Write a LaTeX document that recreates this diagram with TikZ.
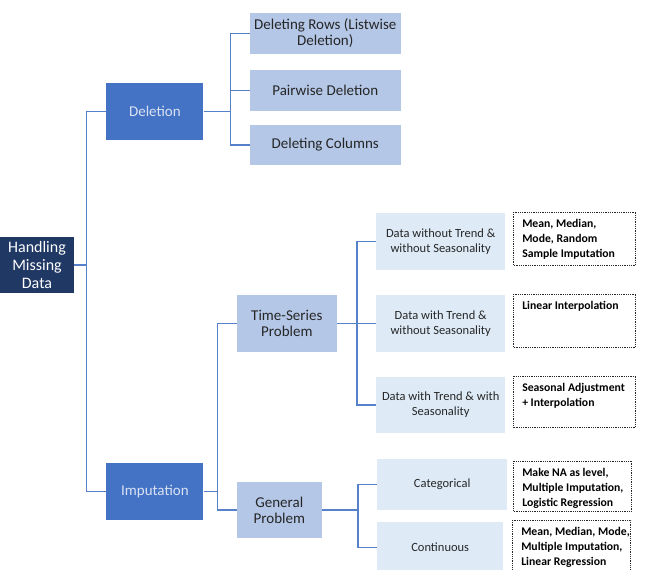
\documentclass[tikz,border=0pt]{standalone}
\usepackage{fontspec}
\setmainfont{Carlito}
\usetikzlibrary{positioning}

\definecolor{navy}{HTML}{203864}
\definecolor{midblue}{HTML}{4472C4}
\definecolor{paleblue}{HTML}{B4C7E7}
\definecolor{iceblue}{HTML}{DEEBF7}
\definecolor{inkgray}{HTML}{262626}
\definecolor{lavtext}{HTML}{DAE3F3}

% text of the dotted answer boxes, kept at the top
\newcommand{\restext}[3]{\parbox[c][#1][t]{#2}{\begin{tabular}[t]{@{}l@{}}#3\end{tabular}}}

\begin{document}
\begin{tikzpicture}[
    every node/.style={inner sep=2pt},
    rootbox/.style={rectangle, fill=navy, text=white, minimum width=74pt, minimum height=56pt, align=center, font=\fontsize{16}{18}\selectfont},
    branch/.style={rectangle, fill=midblue, text=lavtext, minimum width=97pt, minimum height=57pt, align=center, font=\fontsize{15}{17}\selectfont},
    method/.style={rectangle, fill=paleblue, text=inkgray, minimum height=57pt, align=center, font=\fontsize{15}{16}\selectfont},
    case/.style={rectangle, fill=iceblue, text=inkgray, minimum width=129pt, minimum height=57pt, align=center, font=\fontsize{12.5}{15}\selectfont},
    answer/.style={rectangle, draw=inkgray, line width=0.7pt, dash pattern=on 0.9pt off 0.9pt, inner xsep=8.5pt, inner ysep=5pt, font=\bfseries\fontsize{11.7}{15}\selectfont},
    link/.style={draw=midblue!90, line width=1.3pt}]

  \useasboundingbox (0,0) rectangle (645pt,-570pt);

  \node[rootbox] (hmd) at (37pt,-265pt) {Handling\\Missing\\Data};

  \node[branch, right=32pt of hmd, yshift=153.5pt] (deletion) {Deletion};
  \node[branch, right=32pt of hmd, yshift=-226.5pt] (imputation) {Imputation};

  \node[method, minimum width=151pt, minimum height=41pt, right=46pt of deletion, yshift=78pt] (rows) {Deleting Rows (Listwise\\Deletion)};
  \node[method, minimum width=151pt, minimum height=41pt, right=46pt of deletion, yshift=21pt] (pairwise) {Pairwise Deletion};
  \node[method, minimum width=151pt, minimum height=40pt, right=46pt of deletion, yshift=-33.5pt] (columns) {Deleting Columns};

  \node[method, minimum width=100pt, right=33pt of imputation, yshift=168pt] (timeseries) {Time-Series\\Problem};
  \node[method, minimum width=85pt, minimum height=56pt, right=33pt of imputation, yshift=-18.5pt] (general) {General\\Problem};

  \node[case, right=39pt of timeseries, yshift=82pt] (notrend) {Data without Trend \&\\without Seasonality};
  \node[case, right=39pt of timeseries] (trend) {Data with Trend \&\\without Seasonality};
  \node[case, minimum height=56pt, right=39pt of timeseries, yshift=-81.5pt] (seasonal) {Data with Trend \& with\\Seasonality};

  \node[case, minimum width=130pt, minimum height=51pt, right=55pt of general, yshift=25.5pt] (categorical) {Categorical};
  \node[case, minimum width=126pt, minimum height=51pt, right=55pt of general, yshift=-37.5pt] (continuous) {Continuous};

  \node[answer, right=8pt of notrend, yshift=3pt] (ansnotrend) {\restext{43pt}{105pt}{Mean, Median,\\Mode, Random\\Sample Imputation}};
  \node[answer, right=8pt of trend, yshift=3pt] (anstrend) {\restext{43pt}{105pt}{Linear Interpolation}};
  \node[answer, right=8pt of seasonal, yshift=3.5pt] (ansseasonal) {\restext{41pt}{105pt}{Seasonal Adjustment\\+ Interpolation}};
  \node[answer, right=6pt of categorical, yshift=-1.5pt] (anscategorical) {\restext{40pt}{101pt}{Make NA as level,\\Multiple Imputation,\\Logistic Regression}};
  \node[answer, right=9pt of continuous, yshift=1.5pt] (anscontinuous) {\restext{42pt}{101pt}{Mean, Median, Mode,\\Multiple Imputation,\\Linear Regression}};

  % elbow connectors
  \foreach \kid in {deletion, imputation}
    \draw[link] (hmd.east) -- ++(12pt,0) |- (\kid.west);
  \foreach \kid in {rows, pairwise, columns}
    \draw[link] (deletion.east) -- ++(27pt,0) |- (\kid.west);
  \foreach \kid in {timeseries, general}
    \draw[link] (imputation.east) -- ++(14pt,0) |- (\kid.west);
  \foreach \kid in {notrend, trend, seasonal}
    \draw[link] (timeseries.east) -- ++(20pt,0) |- (\kid.west);
  \foreach \kid in {categorical, continuous}
    \draw[link] (general.east) -- ++(36pt,0) |- (\kid.west);
\end{tikzpicture}
\end{document}
